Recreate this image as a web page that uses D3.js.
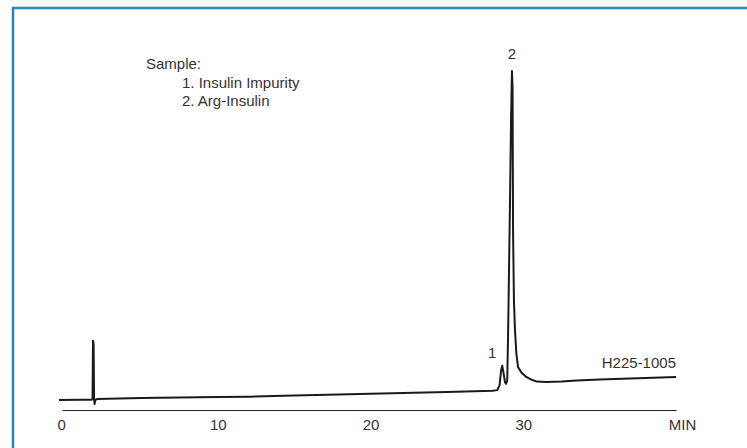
<!DOCTYPE html>
<html>
<head>
<meta charset="utf-8">
<script src="https://cdn.jsdelivr.net/npm/d3@7"></script>
<style>
  html, body { margin: 0; padding: 0; background: #fff; }
  svg { display: block; }
  text { font-family: 'Liberation Sans', Arial, sans-serif; fill: #333; }
</style>
</head>
<body>
<div id="chart"></div>
<script>
// Trace data (time in minutes, detector response in arbitrary units)

const times = [-0.4, 1.0, 1.7, 1.8, 1.83, 1.87, 1.9, 1.93, 1.98, 2.1, 5, 10, 12.1, 15, 20, 25,
  28.0, 28.3, 28.45, 28.55, 28.62, 28.7, 28.8, 28.87, 28.95, 29.0, 29.05, 29.13, 29.2, 29.26,
  29.3, 29.33, 29.39, 29.46, 29.55, 29.66, 29.9, 30.2, 30.44, 30.88, 31.5, 32.5, 33.5, 35, 37, 40];
const response = [0.0, 0.05, 0.1, 0.2, 18.0, 17.0, 0.5, -1.2, 0.0, 0.3, 0.6, 0.9, 1.0, 1.4, 1.9, 2.4,
  2.8, 3.0, 4.5, 9.0, 10.4, 8.5, 5.5, 4.9, 6.0, 18, 34, 60, 85, 100,
  95, 52, 30, 21, 14, 10, 8.2, 7.0, 6.4, 5.6, 5.5, 5.6, 5.9, 6.2, 6.5, 7.0];

const tickValues = [0, 10, 20, 30, 40];
const tickNames = ['0', '10', '20', '30', 'MIN'];

const sampleLines = ['Sample:', '1. Insulin Impurity', '2. Arg-Insulin'];
const peaks = [
  { name: '1', time: 28.62, value: 10.4 },
  { name: '2', time: 29.26, value: 100 },
];
const codeLabel = 'H225-1005';

const width = 747;
const height = 448;

const svg = d3.select('#chart').append('svg')
  .attr('width', width)
  .attr('height', height);

// Cropped frame: only the top and left edges show
svg.append('line')
  .attr('x1', 12).attr('x2', width).attr('y1', 8).attr('y2', 8)
  .attr('stroke', '#2b86b8').attr('stroke-width', 2.5);
svg.append('line')
  .attr('x1', 13).attr('x2', 13).attr('y1', 7).attr('y2', height)
  .attr('stroke', '#2b86b8').attr('stroke-width', 2.5);

// Scales
const xScale = d3.scaleLinear().domain([-0.2, 40]).range([62, 676]);
const yScale = d3.scaleLinear().domain([0, 100]).range([400, 71]);

// X axis, no tick marks, last tick is the unit
const xAxis = d3.axisBottom(xScale)
  .tickValues(tickValues)
  .tickFormat((d, i) => tickNames[i])
  .tickSize(0)
  .tickSizeOuter(0)
  .tickPadding(9);

const xAxisGroup = svg.append('g')
  .attr('transform', 'translate(0, 410)')
  .call(xAxis);

xAxisGroup.select('.domain').attr('stroke', '#222').attr('stroke-width', 1.2);
xAxisGroup.selectAll('text')
  .style('font-size', '15px')
  .style('font-family', "'Liberation Sans', Arial, sans-serif")
  .attr('fill', '#333')
  .attr('dx', d => (d === 40 ? 6 : d === 0 ? -4 : 0));

// The trace
const line = d3.line()
  .x((d, i) => xScale(times[i]))
  .y(d => yScale(d));

svg.append('path')
  .datum(response)
  .attr('d', line)
  .attr('fill', 'none')
  .attr('stroke', '#1a1a1a')
  .attr('stroke-width', 2)
  .attr('stroke-linejoin', 'round');

// Peak numbers
svg.selectAll('.peak')
  .data(peaks)
  .enter()
  .append('text')
  .attr('class', 'peak')
  .attr('x', d => xScale(d.time) + (d.name === '1' ? -10 : 0))
  .attr('y', d => yScale(d.value) - (d.name === '1' ? 8 : 12))
  .attr('text-anchor', 'middle')
  .style('font-size', '15px')
  .text(d => d.name);

// Sample legend
svg.selectAll('.sample')
  .data(sampleLines)
  .enter()
  .append('text')
  .attr('class', 'sample')
  .attr('x', (d, i) => (i === 0 ? 146 : 182))
  .attr('y', (d, i) => 69 + i * 18.7)
  .style('font-size', '15px')
  .text(d => d);

// Figure code
svg.append('text')
  .attr('x', xScale(40))
  .attr('y', 368)
  .attr('text-anchor', 'end')
  .style('font-size', '15px')
  .text(codeLabel);
</script>
</body>
</html>
